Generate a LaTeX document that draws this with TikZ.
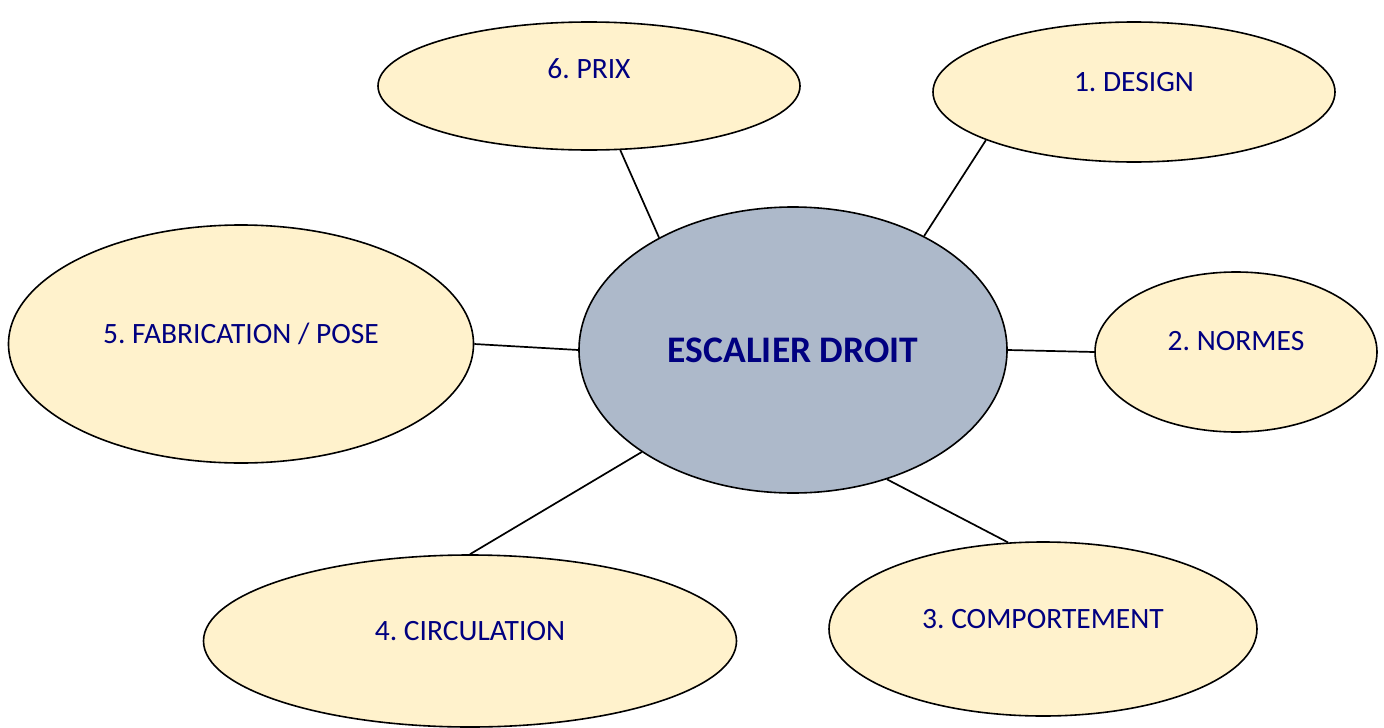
\documentclass[tikz,border=0pt]{standalone}
\usepackage{fontspec}
\setmainfont{Carlito}
\usetikzlibrary{shapes.geometric}
\definecolor{creme}{HTML}{FFF2CC}
\definecolor{grisbleu}{HTML}{ADB9CA}
\definecolor{marine}{RGB}{0,0,128}
\frenchspacing
\tikzset{
  bulle/.style = {
    shape = ellipse,
    draw = black,
    line width = 1.6pt,
    fill = creme,
    text = marine,
    inner sep = 0pt,
    font = \fontsize{29.5}{35}\selectfont,
    text height = 19pt,
    text depth = 21pt,
  }
}
\tikzset{
  trait/.style = {
    draw = black, line width = 1.7pt,
  }
}

\begin{document}
\begin{tikzpicture}[x = 1pt, y = -1pt]
        \useasboundingbox (0,0) rectangle (1384,728);
        \node[bulle, fill = grisbleu, minimum width = 428pt, minimum height = 286pt,
          font = \fontsize{37.5}{44}\selectfont\bfseries, text height = 24pt, text depth = 0pt](e0) at (793,350){ESCALIER DROIT};
        \node[bulle, minimum width = 402pt, minimum height = 140pt](e1) at (1134,92){1. DESIGN};
        \node[bulle, minimum width = 282pt, minimum height = 160pt, text depth = 23pt](e2) at (1236,352){2. NORMES};
        \node[bulle, minimum width = 428pt, minimum height = 174pt](e3) at (1043,629){3. COMPORTEMENT};
        \node[bulle, minimum width = 533pt, minimum height = 172pt](e4) at (470,641){4. CIRCULATION};
        \node[bulle, minimum width = 465pt, minimum height = 238pt](e5) at (241,344){5. FABRICATION / POSE};
        \node[bulle, minimum width = 422pt, minimum height = 128pt, text depth = 34pt](e6) at (589,86){6. PRIX};
        \draw[trait](e0.41.4) -- (e1.198.9);
        \draw[trait](e0.east) -- (e2.west);
        \draw[trait](e0.-54.4) -- (e3.112.7);
        \draw[trait](e0.214.1) -- (e4.north);
        \draw[trait](e0.west) -- (e5.east);
        \draw[trait](e0.140.9) -- (e6.-64.1);
    \end{tikzpicture}
\end{document}
